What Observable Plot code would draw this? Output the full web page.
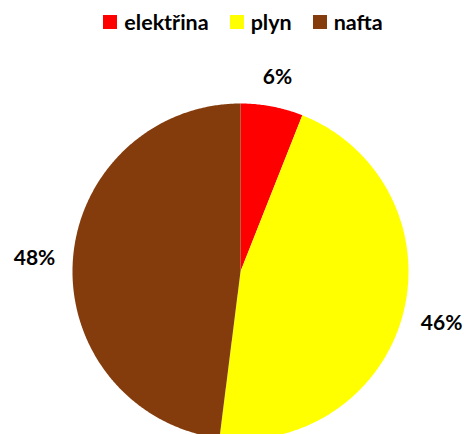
<!DOCTYPE html>
<html><head><meta charset="utf-8">
<script src="https://cdn.jsdelivr.net/npm/d3@7"></script>
<script src="https://cdn.jsdelivr.net/npm/@observablehq/plot@0.6"></script>
<style>
body{margin:0;background:#fff;font-family:Lato,"Open Sans",sans-serif;}
#legend{height:40px;display:flex;justify-content:center;align-items:center;padding-left:22px;padding-top:4px;box-sizing:border-box;}
.item{display:flex;align-items:center;margin:0 10.5px;font-weight:bold;font-size:21.5px;color:#000;}
.sw{width:14px;height:14px;margin-right:7px;}
</style></head><body>
<div id="legend"></div><div id="chart"></div>
<script>
const categories = ["elektřina", "plyn", "nafta"];
const values = [6, 46, 48];
const colors = ["#FF0000", "#FFFF00", "#843C0C"];
const labelTexts = ["6%", "46%", "48%"];

// layout
const W = 464, H = 394, R = 168, cx = 240, cy = 231, fontSize = 21;
const legend = document.getElementById("legend");
categories.forEach((c, i) => {
  const it = document.createElement("div"); it.className = "item";
  const sw = document.createElement("div"); sw.className = "sw"; sw.style.background = colors[i];
  const t = document.createElement("span"); t.textContent = c;
  it.appendChild(sw); it.appendChild(t); legend.appendChild(it);
});

const arcs = d3.pie().sort(null).value(d => d)(values);
const poly = [];
arcs.forEach((a, i) => {
  poly.push({cat: categories[i], x: 0, y: 0});
  const n = Math.max(2, Math.ceil((a.endAngle - a.startAngle) / (Math.PI / 360)));
  for (let k = 0; k <= n; k++) {
    const t = a.startAngle + (a.endAngle - a.startAngle) * k / n;
    poly.push({cat: categories[i], x: Math.sin(t), y: Math.cos(t)});
  }
  poly.push({cat: categories[i], x: 0, y: 0});
});

const ctx = document.createElement("canvas").getContext("2d");
ctx.font = `bold ${fontSize}px Lato`;
const gap = 17 / R;
const labels = arcs.map((a, i) => {
  const m = (a.startAngle + a.endAngle) / 2;
  const s = Math.sin(m), c = Math.cos(m);
  const w = ctx.measureText(labelTexts[i]).width / R, h = (fontSize * 0.95) / R;
  const r = 1 + gap + Math.abs(s) * w / 2 + Math.abs(c) * h / 2;
  return {text: labelTexts[i], x: s * r, y: c * r};
});

const chart = Plot.plot({
  width: W, height: H, margin: 0,
  x: {domain: [-cx / R, (W - cx) / R], axis: null},
  y: {domain: [-(H - cy) / R, cy / R], axis: null},
  color: {domain: categories, range: colors},
  style: {fontFamily: "Lato", background: "#fff"},
  marks: [
    Plot.line(poly, {x: "x", y: "y", z: "cat", fill: "cat", stroke: "none", curve: "linear"}),
    Plot.text(labels, {x: "x", y: "y", text: "text", fontSize, fontWeight: "bold", fill: "#000"})
  ]
});
document.getElementById("chart").appendChild(chart);
</script></body></html>
